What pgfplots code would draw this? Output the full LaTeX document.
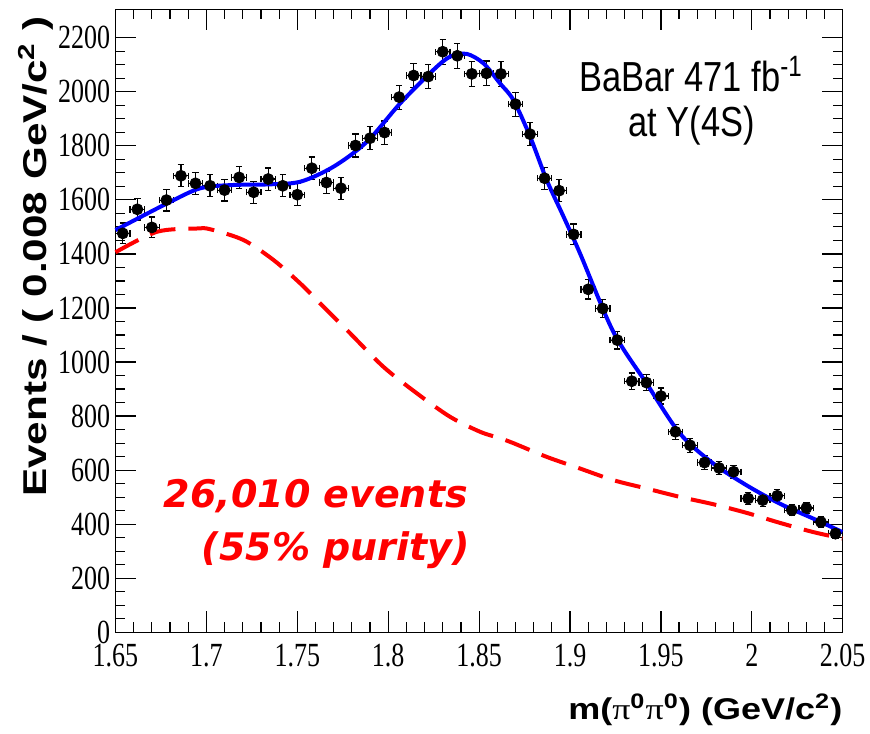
\documentclass[border=0pt]{standalone}
\usepackage{pgfplots}
\pgfplotsset{compat=1.18}
\usepackage{pgfplotstable}
\usepackage{graphicx}
\usepackage{fontspec}
\setmainfont{Liberation Serif}
\newfontfamily\arialf{Liberation Sans}
\newfontfamily\dejavuf{DejaVu Sans}

\pgfplotstableread{
x y ex ey
1.654 1476 0.004 38.4
1.662 1565 0.004 39.6
1.670 1498 0.004 38.7
1.678 1599 0.004 40.0
1.686 1689 0.004 41.1
1.694 1661 0.004 40.8
1.702 1652 0.004 40.6
1.710 1636 0.004 40.4
1.718 1683 0.004 41.0
1.726 1628 0.004 40.3
1.734 1677 0.004 41.0
1.742 1652 0.004 40.6
1.750 1619 0.004 40.2
1.758 1717 0.004 41.4
1.766 1664 0.004 40.8
1.774 1643 0.004 40.5
1.782 1801 0.004 42.4
1.790 1828 0.004 42.8
1.798 1849 0.004 43.0
1.806 1980 0.004 44.5
1.814 2060 0.004 45.4
1.822 2056 0.004 45.3
1.830 2148 0.004 46.3
1.838 2133 0.004 46.2
1.846 2066 0.004 45.5
1.854 2068 0.004 45.5
1.862 2066 0.004 45.5
1.870 1954 0.004 44.2
1.878 1843 0.004 42.9
1.886 1680 0.004 41.0
1.894 1634 0.004 40.4
1.902 1472 0.004 38.4
1.910 1269 0.004 35.6
1.918 1198 0.004 34.6
1.926 1081 0.004 32.9
1.934 929 0.004 30.5
1.942 924 0.004 30.4
1.950 874 0.004 29.6
1.958 742 0.004 27.2
1.966 692 0.004 26.3
1.974 628 0.004 25.1
1.982 608 0.004 24.7
1.990 594 0.004 24.4
1.998 495 0.004 22.2
2.006 489 0.004 22.1
2.014 505 0.004 22.5
2.022 452 0.004 21.3
2.030 460 0.004 21.4
2.038 408 0.004 20.2
2.046 365 0.004 19.1
}\datatable

\pgfplotstableread{
x y
1.65 1488
1.6784 1587
1.6967 1643
1.715 1655
1.7334 1657
1.7516 1667
1.77 1723
1.7883 1815
1.8066 1957
1.8249 2081
1.8341 2130
1.8432 2140
1.8524 2105
1.8615 2031
1.8688 1970
1.878 1835
1.8872 1673
1.8963 1540
1.9055 1402
1.9238 1112
1.9421 921
1.9604 736
1.9787 625
1.9971 544
2.0154 476
2.0337 421
2.0498 371
}\sigtable

\pgfplotstableread{
x y
1.65 1406
1.6729 1482
1.6949 1494
1.7022 1491
1.7205 1451
1.737 1377
1.7516 1291
1.7608 1229
1.77 1167
1.7791 1106
1.7974 982
1.8158 884
1.8341 797
1.8505 742
1.8615 718
1.8688 700
1.8872 649
1.9055 606
1.9238 563
1.9421 532
1.9604 501
1.9787 474
1.9971 442
2.0154 405
2.0337 371
2.0498 347
}\bkgtable

\begin{document}
\begin{tikzpicture}
\begin{axis}[
  at={(0,0)}, anchor=south west,
  scale only axis, width=363.6pt, height=311.5pt,
  xmin=1.65, xmax=2.05, ymin=0, ymax=2305,
  xtick={1.65,1.7,1.75,1.8,1.85,1.9,1.95,2,2.05},
  ytick={0,200,400,600,800,1000,1200,1400,1600,1800,2000,2200},
  minor x tick num=4, minor y tick num=3,
  tick align=inside, major tick length=10.5pt, minor tick length=5pt,
  axis line style={line width=0.6pt},
  every tick/.style={line width=0.6pt, black},
  /pgf/number format/assume math mode=true,
  /pgf/number format/1000 sep={},
  ticklabel style={font=\fontsize{13}{13}\selectfont},
  xticklabel={\scalebox{1}[1.3]{\pgfmathprintnumber{\tick}}},
  yticklabel={\scalebox{1}[1.3]{\pgfmathprintnumber{\tick}}},
  xticklabel style={inner sep=0pt, anchor=north, yshift=-5.5pt},
  yticklabel style={inner sep=0pt, anchor=east, xshift=-2.5pt},
  clip=false,
]
\addplot[only marks, mark=*, mark size=2.75pt, black,
  error bars/.cd, x dir=both, x explicit, y dir=both, y explicit,
  error bar style={line width=0.6pt, black},
  error mark options={rotate=90, mark size=1.6pt, line width=0.6pt, black}]
  table[x=x, y=y, x error=ex, y error=ey] {\datatable};
\addplot[red, line width=2pt, dash pattern=on 13pt off 6.5pt, smooth] table[x=x,y=y] {\bkgtable};
\addplot[blue, line width=2pt, smooth] table[x=x,y=y] {\sigtable};

\node[anchor=base, inner sep=0pt, font=\arialf\fontsize{21}{21}\selectfont] at (axis cs:1.9665,1999) {\scalebox{0.82}[1]{BaBar 471 fb\textsuperscript{-1}}};
\node[anchor=base, inner sep=0pt, font=\arialf\fontsize{21}{21}\selectfont] at (axis cs:1.967,1833) {\scalebox{0.82}[1]{at Y(4S)}};

\node[anchor=base east, inner sep=0pt, red, font=\dejavuf\bfseries\itshape\fontsize{19}{19}\selectfont] at (axis cs:1.8440,463) {26,010 events};
\node[anchor=base east, inner sep=0pt, red, font=\dejavuf\bfseries\itshape\fontsize{19}{19}\selectfont] at (axis cs:1.8451,266.6) {(55\% purity)};

\node[anchor=base east, inner sep=0pt, font=\arialf\bfseries\fontsize{15}{15}\selectfont] at ([yshift=-43.5pt]rel axis cs:1,0) {\scalebox{1.2}[1]{m({\rmfamily\mdseries π}\textsuperscript{0}{\rmfamily\mdseries π}\textsuperscript{0}) (GeV/c\textsuperscript{2})}};

\node[rotate=90, anchor=center, inner sep=0pt, font=\arialf\bfseries\fontsize{16.5}{16.5}\selectfont] at ([xshift=-39.75pt]rel axis cs:0,0.603) {\scalebox{1.28}[1]{Events / ( 0.008 GeV/c\textsuperscript{2} )}};
\end{axis}
\pgfresetboundingbox
\path (-57.75pt,-50.35pt) rectangle (377.25pt,316.15pt);
\end{tikzpicture}
\end{document}
